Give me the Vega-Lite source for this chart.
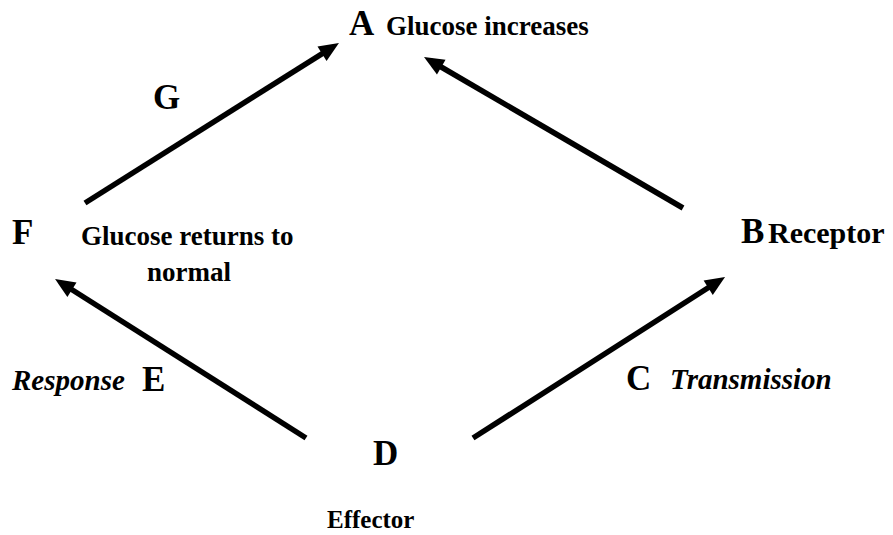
{
  "$schema": "https://vega.github.io/schema/vega-lite/v6.json",
  "width": 893,
  "height": 535,
  "autosize": {"type": "fit", "contains": "padding"},
  "padding": 0,
  "background": "white",
  "config": {"view": {"stroke": null}, "text": {"font": "Liberation Serif, Times New Roman, Times, serif", "fontWeight": "bold", "align": "left", "baseline": "alphabetic", "color": "black"}},
  "datasets": {
    "arrows": [
      {"edge": "F to A", "x": 85, "y": 203, "x2": 332.2, "y2": 47.3, "angle": 57.8},
      {"edge": "B to A", "x": 683, "y": 208, "x2": 430.9, "y2": 61, "angle": 300.3},
      {"edge": "D to F", "x": 306, "y": 438, "x2": 61.8, "y2": 283.3, "angle": 302.4},
      {"edge": "D to B", "x": 473, "y": 438, "x2": 718.3, "y2": 281.3, "angle": 57.4}
    ],
    "letters": [
      {"t": "A", "x": 349, "y": 35},
      {"t": "G", "x": 153, "y": 109},
      {"t": "F", "x": 12, "y": 244},
      {"t": "B", "x": 741, "y": 243},
      {"t": "E", "x": 142, "y": 391},
      {"t": "C", "x": 626, "y": 390},
      {"t": "D", "x": 373, "y": 465}
    ],
    "labels": [
      {"t": "Glucose increases", "x": 386, "y": 35},
      {"t": "Glucose returns to", "x": 81, "y": 245},
      {"t": "normal", "x": 147, "y": 281}
    ],
    "receptor": [
      {"t": "Receptor", "x": 768, "y": 243}
    ],
    "effector": [
      {"t": "Effector", "x": 327, "y": 528}
    ],
    "italics": [
      {"t": "Response", "x": 12, "y": 390},
      {"t": "Transmission", "x": 670, "y": 389}
    ]
  },
  "layer": [
    {
      "data": {"name": "arrows"},
      "mark": {"type": "rule", "color": "black", "strokeWidth": 5.5, "strokeCap": "butt"},
      "encoding": {
        "x": {"field": "x", "type": "quantitative", "scale": {"domain": [0, 893], "nice": false, "zero": false}, "axis": null},
        "y": {"field": "y", "type": "quantitative", "scale": {"domain": [0, 535], "nice": false, "zero": false, "reverse": true}, "axis": null},
        "x2": {"field": "x2"},
        "y2": {"field": "y2"}
      }
    },
    {
      "data": {"name": "arrows"},
      "mark": {"type": "point", "shape": "M0,-0.8L0.85,1.2L-0.85,1.2Z", "filled": true, "color": "black", "opacity": 1, "size": 400, "strokeWidth": 0},
      "encoding": {
        "x": {"field": "x2", "type": "quantitative"},
        "y": {"field": "y2", "type": "quantitative"},
        "angle": {"field": "angle", "type": "quantitative", "scale": null}
      }
    },
    {
      "data": {"name": "letters"},
      "mark": {"type": "text", "fontSize": 35},
      "encoding": {
        "x": {"field": "x", "type": "quantitative"},
        "y": {"field": "y", "type": "quantitative"},
        "text": {"field": "t"}
      }
    },
    {
      "data": {"name": "labels"},
      "mark": {"type": "text", "fontSize": 27},
      "encoding": {
        "x": {"field": "x", "type": "quantitative"},
        "y": {"field": "y", "type": "quantitative"},
        "text": {"field": "t"}
      }
    },
    {
      "data": {"name": "receptor"},
      "mark": {"type": "text", "fontSize": 30},
      "encoding": {
        "x": {"field": "x", "type": "quantitative"},
        "y": {"field": "y", "type": "quantitative"},
        "text": {"field": "t"}
      }
    },
    {
      "data": {"name": "effector"},
      "mark": {"type": "text", "fontSize": 25},
      "encoding": {
        "x": {"field": "x", "type": "quantitative"},
        "y": {"field": "y", "type": "quantitative"},
        "text": {"field": "t"}
      }
    },
    {
      "data": {"name": "italics"},
      "mark": {"type": "text", "fontStyle": "italic", "fontSize": 29},
      "encoding": {
        "x": {"field": "x", "type": "quantitative"},
        "y": {"field": "y", "type": "quantitative"},
        "text": {"field": "t"}
      }
    }
  ]
}
